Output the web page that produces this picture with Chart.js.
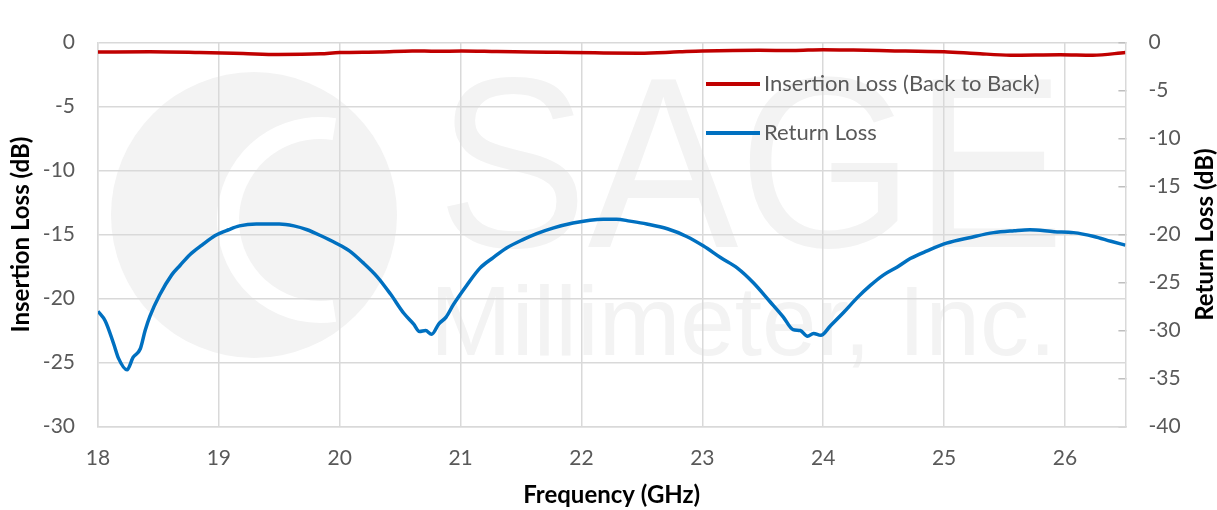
<!DOCTYPE html>
<html>
<head>
<meta charset="utf-8">
<script src="https://cdn.jsdelivr.net/npm/chart.js@4.4.1/dist/chart.umd.min.js"></script>
<style>
    html, body { margin: 0; padding: 0; background: #fff; }
</style>
</head>
<body>
<canvas id="chartLoss" width="1217" height="510"></canvas>
<script>
// frequency (GHz) and insertion loss (dB, left axis)
var freqIL = [18.0, 18.43, 18.84, 19.2, 19.49, 19.84, 20.0, 20.33, 20.6, 20.8, 21.01, 21.3,
    21.56, 21.8, 22.11, 22.48, 22.81, 23.0, 23.47, 23.75, 24.0, 24.25, 24.53, 25.0, 25.26,
    25.55, 25.96, 26.23, 26.5];
var insertionLoss = [-0.73, -0.72, -0.78, -0.86, -0.93, -0.88, -0.78, -0.74, -0.65, -0.68, -0.66, -0.70,
    -0.73, -0.76, -0.80, -0.83, -0.72, -0.66, -0.60, -0.62, -0.55, -0.58, -0.63, -0.72, -0.85,
    -0.98, -0.94, -0.98, -0.78];

// frequency (GHz) and return loss (dB, right axis)
var freqRL = [18.0, 18.06, 18.13, 18.17, 18.24, 18.29, 18.35, 18.39, 18.43, 18.51, 18.61, 18.68,
    18.76, 18.86, 18.97, 19.08, 19.17, 19.31, 19.41, 19.5, 19.62, 19.73, 19.84, 19.97, 20.08,
    20.19, 20.31, 20.42, 20.53, 20.61, 20.66, 20.71, 20.76, 20.82, 20.88, 20.94, 21.05, 21.16,
    21.27, 21.38, 21.52, 21.63, 21.77, 21.93, 22.07, 22.18, 22.29, 22.4, 22.54, 22.71, 22.87,
    23.01, 23.15, 23.29, 23.42, 23.56, 23.67, 23.75, 23.81, 23.87, 23.92, 23.98, 24.06, 24.17,
    24.28, 24.39, 24.5, 24.61, 24.72, 24.86, 25.02, 25.22, 25.41, 25.58, 25.71, 25.91, 26.07,
    26.24, 26.38, 26.5];
var returnLoss = [-28.0, -29.0, -31.4, -32.9, -34.1, -32.8, -31.9, -30.0, -28.5, -26.3, -24.2, -23.2,
    -22.1, -21.1, -20.1, -19.5, -19.1, -18.9, -18.9, -18.9, -19.1, -19.5, -20.1, -20.9, -21.7,
    -22.9, -24.4, -26.2, -28.2, -29.3, -30.1, -30.0, -30.4, -29.3, -28.6, -27.3, -25.3, -23.5,
    -22.4, -21.4, -20.5, -19.9, -19.3, -18.8, -18.5, -18.4, -18.4, -18.6, -18.9, -19.4, -20.2,
    -21.2, -22.4, -23.5, -25.0, -27.0, -28.6, -29.9, -30.0, -30.6, -30.3, -30.5, -29.5, -28.1,
    -26.6, -25.3, -24.2, -23.4, -22.5, -21.7, -20.9, -20.3, -19.8, -19.6, -19.5, -19.7, -19.8,
    -20.2, -20.7, -21.1];

var xTickValues = [18, 19, 20, 21, 22, 23, 24, 25, 26];
var ilTickValues = [-30, -25, -20, -15, -10, -5, 0];
var rlTickValues = [-40, -35, -30, -25, -20, -15, -10, -5, 0];

var seriesNames = ['Insertion Loss (Back to Back)', 'Return Loss'];
var seriesColors = ['#c00000', '#0070c0'];

var FONT = 'Lato, "Open Sans", sans-serif';
var GRID = '#d9d9d9';
var TEXT = '#595959';

Chart.defaults.font.family = FONT;

function toPoints(xs, ys) {
    return xs.map(function (x, i) { return { x: x, y: ys[i] }; });
}

function fixedTicks(values) {
    return function (scale) {
        scale.ticks = values.map(function (v) { return { value: v }; });
    };
}

// light company logo behind the plot
var backdrop = {
    id: 'backdrop',
    beforeDraw: function (chart) {
        var ctx = chart.ctx;
        ctx.save();
        ctx.fillStyle = '#fff';
        ctx.fillRect(0, 0, chart.width, chart.height);

        ctx.fillStyle = '#f3f3f3';
        ctx.beginPath();
        ctx.arc(254, 215, 143, 0, Math.PI * 2);
        ctx.fill();
        ctx.strokeStyle = '#fff';
        ctx.lineWidth = 22;
        ctx.beginPath();
        ctx.arc(320, 220, 92, Math.PI * 0.45, Math.PI * 1.55);
        ctx.stroke();

        ctx.fillStyle = '#f3f3f3';
        ctx.textBaseline = 'alphabetic';
        ctx.textAlign = 'left';
        ctx.font = '244px "Liberation Sans", sans-serif';
        ctx.fillText('SAGE', 437, 247, 628);
        ctx.font = '98px "Liberation Sans", sans-serif';
        ctx.fillText('Millimeter, Inc.', 430, 355, 671);
        ctx.restore();
    }
};

// legend inside the plot + right axis title reading upwards
var decorations = {
    id: 'decorations',
    afterDraw: function (chart) {
        var ctx = chart.ctx;
        ctx.save();
        var rows = [84, 133];
        seriesNames.forEach(function (name, i) {
            ctx.strokeStyle = seriesColors[i];
            ctx.lineWidth = 4;
            ctx.beginPath();
            ctx.moveTo(706, rows[i]);
            ctx.lineTo(760, rows[i]);
            ctx.stroke();
            ctx.fillStyle = TEXT;
            ctx.font = '22px ' + FONT;
            ctx.textBaseline = 'middle';
            ctx.textAlign = 'left';
            ctx.fillText(name, 764, rows[i]);
        });

        var area = chart.chartArea;
        ctx.translate(1205, (area.top + area.bottom) / 2);
        ctx.rotate(-Math.PI / 2);
        ctx.fillStyle = '#000';
        ctx.font = 'bold 24px ' + FONT;
        ctx.textAlign = 'center';
        ctx.textBaseline = 'middle';
        ctx.fillText('Return Loss (dB)', 0, 0);
        ctx.restore();
    }
};

new Chart(document.getElementById('chartLoss'), {
    type: 'line',
    data: {
        datasets: [{
            label: seriesNames[0],
            data: toPoints(freqIL, insertionLoss),
            borderColor: seriesColors[0],
            borderWidth: 3.5,
            pointRadius: 0,
            cubicInterpolationMode: 'monotone',
            yAxisID: 'yIL'
        }, {
            label: seriesNames[1],
            data: toPoints(freqRL, returnLoss),
            borderColor: seriesColors[1],
            borderWidth: 3.5,
            pointRadius: 0,
            cubicInterpolationMode: 'monotone',
            yAxisID: 'yRL'
        }]
    },
    options: {
        responsive: false,
        animation: false,
        layout: { padding: { top: 21.7, left: 0, right: 0, bottom: 0 } },
        plugins: {
            legend: { display: false },
            tooltip: { enabled: false }
        },
        scales: {
            x: {
                type: 'linear',
                min: 18,
                max: 26.5,
                afterBuildTicks: fixedTicks(xTickValues),
                afterFit: function (s) { s.height = 83.5; },
                grid: { color: GRID, lineWidth: 1.5, drawTicks: false },
                border: { color: GRID, width: 1.5 },
                ticks: { color: TEXT, font: { size: 21 }, padding: 19 },
                title: {
                    display: true,
                    text: 'Frequency (GHz)',
                    color: '#000',
                    font: { size: 24, weight: 'bold' },
                    padding: { top: 0, bottom: 0 }
                }
            },
            yIL: {
                type: 'linear',
                position: 'left',
                min: -30,
                max: 0,
                afterBuildTicks: fixedTicks(ilTickValues),
                afterFit: function (s) { s.width = 98; },
                grid: { color: GRID, lineWidth: 1.5, drawTicks: false },
                border: { color: GRID, width: 1.5 },
                ticks: { color: TEXT, font: { size: 21 }, padding: 23 },
                title: {
                    display: true,
                    text: 'Insertion Loss (dB)',
                    color: '#000',
                    font: { size: 24, weight: 'bold' },
                    padding: { top: 6.5, bottom: 0 }
                }
            },
            yRL: {
                type: 'linear',
                position: 'right',
                min: -40,
                max: 0,
                afterBuildTicks: fixedTicks(rlTickValues),
                afterFit: function (s) { s.width = 91.6; },
                grid: { drawOnChartArea: false, tickLength: -7, tickColor: '#bfbfbf', lineWidth: 1.5 },
                border: { color: GRID, width: 1.5 },
                ticks: { color: TEXT, font: { size: 21 }, padding: 30 }
            }
        }
    },
    plugins: [backdrop, decorations]
});
</script>
</body>
</html>
